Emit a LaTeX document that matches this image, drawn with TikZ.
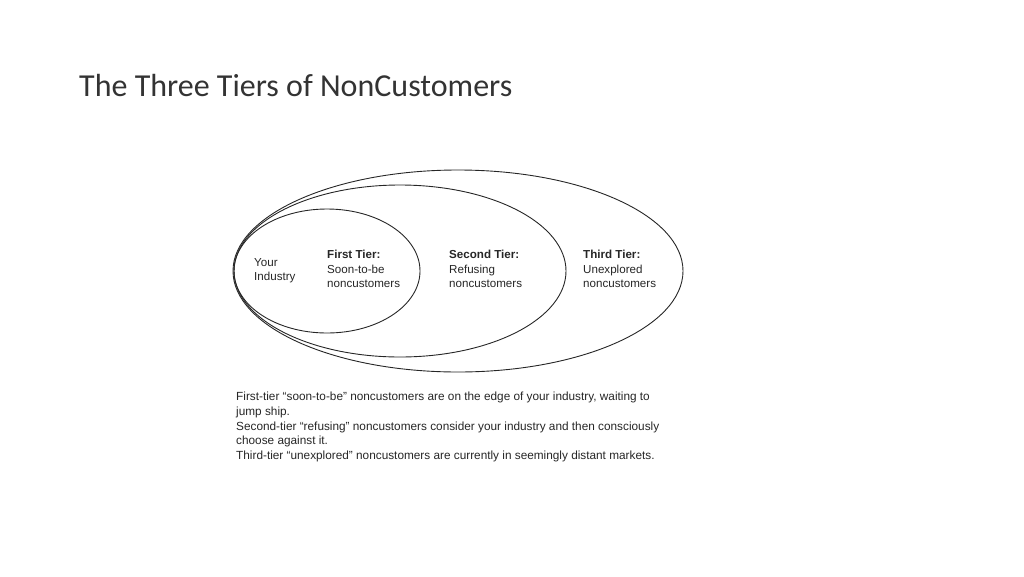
\documentclass[tikz,border=0pt]{standalone}
\usepackage{fontspec}
\setmainfont{Liberation Sans}
\newfontfamily\titlefont{Carlito}
\begin{document}
\begin{tikzpicture}[x=1pt,y=-1pt,
  ring/.style={draw=black!85,line width=0.9pt},
  lbl/.style={anchor=north west,align=left,font=\fontsize{11.6}{14.5}\selectfont,text=black!85,inner sep=0pt},
  captext/.style={anchor=north west,align=left,font=\fontsize{11.8}{14.7}\selectfont,text=black!85,inner sep=0pt}]
\useasboundingbox (0,0) rectangle (1024,576);
\node[anchor=west,inner sep=0pt,font=\titlefont\fontsize{32}{36}\selectfont,text=black!80] (title) at (79,86) {The Three Tiers of NonCustomers};
\draw[ring] (458,271) ellipse [x radius=225,y radius=101];
\draw[ring] (400,271) ellipse [x radius=166,y radius=86];
\draw[ring] (327,271) ellipse [x radius=93,y radius=62];
\node[lbl] (you) at (254,258) {Your\\Industry};
\node[lbl] (t1) at (327,250) {\textbf{First Tier:}\\Soon-to-be\\noncustomers};
\node[lbl] (t2) at (449,250) {\textbf{Second Tier:}\\Refusing\\noncustomers};
\node[lbl] (t3) at (583,250) {\textbf{Third Tier:}\\Unexplored\\noncustomers};
\node[captext] (caption) at (236,392) {First-tier “soon-to-be” noncustomers are on the edge of your industry, waiting to\\jump ship.\\Second-tier “refusing” noncustomers consider your industry and then consciously\\choose against it.\\Third-tier “unexplored” noncustomers are currently in seemingly distant markets.};
\end{tikzpicture}
\end{document}
